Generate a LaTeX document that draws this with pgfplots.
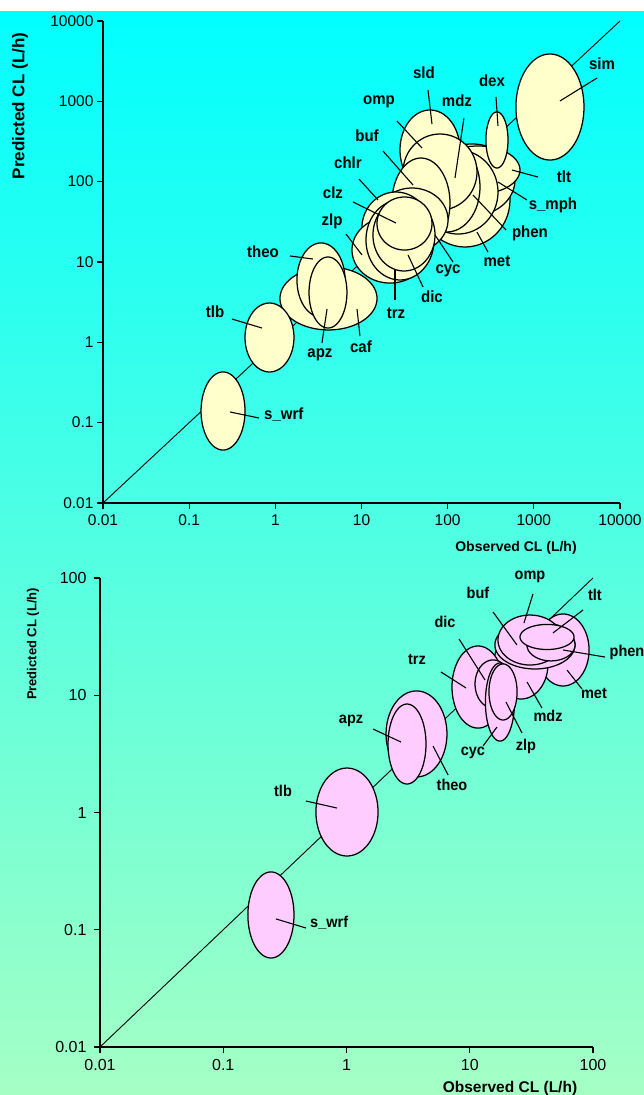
\documentclass[border=0pt]{standalone}
\usepackage{pgfplots}
\pgfplotsset{compat=1.18}
\usepackage{fontspec}
\setmainfont{Liberation Sans}
\definecolor{ellY}{RGB}{255,255,204}
\definecolor{ellP}{RGB}{255,204,255}
\definecolor{bgTop}{RGB}{0,255,255}
\definecolor{bgBot}{RGB}{165,255,196}
% ellipse: centre (log10 obs, log10 pred), half-widths in decades
\newcommand{\ellp}[5]{\addplot[fill=#5, draw=black, line width=1.25pt, domain=0:360, samples=91] ({#1+#3*cos(x)},{#2+#4*sin(x)}) -- cycle;}
\newcommand{\lead}[4]{\addplot[black, line width=1.1pt] coordinates {(#1,#2) (#3,#4)};}
\tikzset{lbl/.style={font=\fontsize{15}{15}\selectfont\bfseries, inner sep=0pt, yscale=1.08},
         lblb/.style={font=\fontsize{14.5}{15}\selectfont\bfseries, inner sep=0pt, yscale=1.08}}
\pgfplotsset{myax/.style={
  scale only axis, anchor=south west,
  axis lines=left, axis line style={-, line width=1.3pt},
  tick align=outside, major tick length=6pt,
  tick style={black, line width=1.2pt},
  xminorticks=false, yminorticks=false,
  clip=false,
}}
\begin{document}
\begin{tikzpicture}
\useasboundingbox (0,0) rectangle (644pt,1095pt);
\fill[white] (0,0) rectangle (644pt,1095pt);
\shade[top color=bgTop, bottom color=bgBot] (0,0) rectangle (644pt,1083pt);

% ---------------- top panel ----------------
\begin{axis}[myax, at={(103pt,592pt)}, width=517pt, height=482pt,
  xmin=-2, xmax=4, ymin=-2, ymax=4,
  xtick={-2,...,4}, ytick={-2,...,4},
  ticklabel style={font=\fontsize{15.5}{15.5}\selectfont},
  xticklabel style={yshift=-2pt},
  xticklabels={0.01,0.1,1,10,100,1000,10000},
  yticklabels={0.01,0.1,1,10,100,1000,10000}]
\addplot[black, line width=0.9pt] coordinates {(-2,-2) (4,4)};
\ellp{0.617}{0.546}{0.563}{0.392}{ellY} % caf
\ellp{0.530}{0.776}{0.279}{0.461}{ellY} % theo
\ellp{0.611}{0.620}{0.220}{0.442}{ellY} % apz
\ellp{-0.068}{0.060}{0.284}{0.429}{ellY} % tlb
\ellp{-0.607}{-0.855}{0.255}{0.486}{ellY} % s_wrf
\ellp{2.201}{1.772}{0.522}{0.585}{ellY} % met
\ellp{2.282}{2.021}{0.499}{0.448}{ellY} % s_mph
\ellp{2.352}{2.145}{0.487}{0.299}{ellY} % tlt
\ellp{2.120}{1.871}{0.464}{0.523}{ellY} % phen
\ellp{1.992}{1.934}{0.383}{0.560}{ellY} % mdz
\ellp{1.795}{2.394}{0.348}{0.498}{ellY} % sld
\ellp{1.911}{2.120}{0.429}{0.473}{ellY} % omp
\ellp{1.690}{1.734}{0.337}{0.560}{ellY} % buf
\ellp{1.586}{1.523}{0.418}{0.398}{ellY} % cyc
\ellp{1.400}{1.423}{0.395}{0.448}{ellY} % chlr
\ellp{1.331}{1.149}{0.441}{0.411}{ellY} % zlp
\ellp{1.447}{1.274}{0.395}{0.498}{ellY} % trz
\ellp{1.493}{1.336}{0.360}{0.448}{ellY} % dic
\ellp{1.499}{1.479}{0.319}{0.330}{ellY} % clz
\ellp{2.572}{2.519}{0.128}{0.349}{ellY} % dex
\ellp{3.187}{2.929}{0.395}{0.660}{ellY} % sim
% leaders
\lead{3.733}{3.290}{3.303}{3.004}
\lead{2.561}{3.054}{2.584}{2.693}
\lead{1.772}{3.141}{1.818}{2.718}
\lead{2.189}{2.792}{2.085}{2.046}
\lead{1.412}{2.755}{1.702}{2.419}
\lead{1.249}{2.382}{1.598}{1.958}
\lead{0.971}{2.033}{1.191}{1.772}
\lead{0.901}{1.747}{1.400}{1.485}
\lead{0.820}{1.348}{1.006}{1.087}
\lead{0.170}{1.075}{0.437}{1.037}
\lead{-0.503}{0.290}{-0.155}{0.178}
\lead{0.541}{-0.008}{0.600}{0.415}
\lead{0.982}{0.079}{0.948}{0.415}
\lead{1.389}{0.527}{1.389}{0.900}
\lead{1.714}{0.689}{1.540}{1.087}
\lead{2.062}{1.000}{1.853}{1.336}
\lead{2.468}{1.124}{2.340}{1.373}
\lead{2.677}{1.398}{2.294}{1.834}
\lead{2.920}{1.772}{2.584}{1.996}
\lead{3.048}{2.058}{2.746}{2.145}
\lead{-0.190}{-0.942}{-0.526}{-0.867}
% labels
\node[lbl] at (axis cs:3.791,3.465) {sim};
\node[lbl] at (axis cs:2.514,3.253) {dex};
\node[lbl] at (axis cs:1.725,3.353) {sld};
\node[lbl] at (axis cs:2.108,3.004) {mdz};
\node[lbl] at (axis cs:1.203,2.992) {omp};
\node[lbl] at (axis cs:1.064,2.568) {buf};
\node[lbl] at (axis cs:0.843,2.232) {chlr};
\node[lbl] at (axis cs:0.669,1.859) {clz};
\node[lbl] at (axis cs:0.658,1.510) {zlp};
\node[lbl] at (axis cs:-0.143,1.124) {theo};
\node[lbl] at (axis cs:-0.700,0.377) {tlb};
\node[lbl] at (axis cs:0.518,-0.158) {apz};
\node[lbl] at (axis cs:0.994,-0.058) {caf};
\node[lbl] at (axis cs:1.400,0.365) {trz};
\node[lbl] at (axis cs:1.818,0.564) {dic};
\node[lbl] at (axis cs:2.004,0.888) {cyc};
\node[lbl] at (axis cs:2.572,1.012) {met};
\node[lbl] at (axis cs:2.955,1.361) {phen};
\node[lbl] at (axis cs:3.222,1.709) {s\_mph};
\node[lbl] at (axis cs:3.350,2.058) {tlt};
\node[lbl, anchor=west] at (axis cs:-0.132,-0.905) {s\_wrf};
\end{axis}
\node[font=\fontsize{14}{14}\selectfont\bfseries] at (516pt,547pt) {Observed CL (L/h)};
\node[font=\fontsize{17}{17}\selectfont\bfseries, rotate=90] at (20pt,989pt) {Predicted CL (L/h)};

% ---------------- bottom panel ----------------
\begin{axis}[myax, at={(100pt,48pt)}, width=493pt, height=469pt,
  xmin=-2, xmax=2, ymin=-2, ymax=2,
  xtick={-2,...,2}, ytick={-2,...,2},
  ticklabel style={font=\fontsize{16}{16}\selectfont},
  xticklabels={0.01,0.1,1,10,100},
  yticklabels={0.01,0.1,1,10,100},
  yticklabel style={xshift=-4pt}, xticklabel style={yshift=-3pt}]
\addplot[black, line width=0.9pt] coordinates {(-2,-2) (2,2)};
\ellp{1.757}{1.386}{0.211}{0.307}{ellP} % met
\ellp{1.416}{1.267}{0.219}{0.299}{ellP} % mdz
\ellp{1.529}{1.429}{0.325}{0.205}{ellP} % buf
\ellp{1.489}{1.471}{0.260}{0.213}{ellP} % omp
\ellp{1.659}{1.429}{0.195}{0.136}{ellP} % phen
\ellp{1.627}{1.497}{0.219}{0.107}{ellP} % tlt
\ellp{1.067}{1.070}{0.211}{0.350}{ellP} % trz
\ellp{1.189}{1.096}{0.146}{0.205}{ellP} % dic
\ellp{1.245}{0.942}{0.118}{0.333}{ellP} % cyc
\ellp{1.270}{1.028}{0.114}{0.239}{ellP} % zlp
\ellp{0.568}{0.670}{0.247}{0.367}{ellP} % theo
\ellp{0.491}{0.584}{0.154}{0.341}{ellP} % apz
\ellp{0.004}{0.004}{0.252}{0.375}{ellP} % tlb
\ellp{-0.613}{-0.874}{0.187}{0.367}{ellP} % s_wrf
% leaders
\lead{1.513}{1.864}{1.440}{1.616}
\lead{1.919}{1.727}{1.675}{1.531}
\lead{1.189}{1.710}{1.383}{1.429}
\lead{0.913}{1.480}{1.124}{1.130}
\lead{2.097}{1.326}{1.757}{1.386}
\lead{0.767}{1.198}{0.970}{1.062}
\lead{1.911}{1.053}{1.789}{1.215}
\lead{1.586}{0.891}{1.465}{1.113}
\lead{0.215}{0.712}{0.442}{0.601}
\lead{1.424}{0.678}{1.294}{0.942}
\lead{1.108}{0.567}{1.221}{0.729}
\lead{0.824}{0.320}{0.702}{0.567}
\lead{-0.329}{0.098}{-0.077}{0.038}
\lead{-0.329}{-0.985}{-0.572}{-0.908}
% labels
\node[lblb] at (axis cs:1.489,2.009) {omp};
\node[lblb] at (axis cs:2.016,1.855) {tlt};
\node[lblb] at (axis cs:1.067,1.872) {buf};
\node[lblb] at (axis cs:0.799,1.625) {dic};
\node[lblb] at (axis cs:2.276,1.369) {phen};
\node[lblb] at (axis cs:0.572,1.301) {trz};
\node[lblb] at (axis cs:2.008,1.011) {met};
\node[lblb] at (axis cs:1.635,0.823) {mdz};
\node[lblb] at (axis cs:0.037,0.780) {apz};
\node[lblb] at (axis cs:1.456,0.567) {zlp};
\node[lblb] at (axis cs:1.026,0.507) {cyc};
\node[lblb] at (axis cs:0.856,0.235) {theo};
\node[lblb] at (axis cs:-0.515,0.183) {tlb};
\node[lblb, anchor=west] at (axis cs:-0.296,-0.942) {s\_wrf};
\end{axis}
\node[font=\fontsize{15.5}{15.5}\selectfont\bfseries] at (510pt,7pt) {Observed CL (L/h)};
\node[font=\fontsize{13}{13}\selectfont\bfseries, rotate=90] at (33pt,451pt) {Predicted CL (L/h)};
\end{tikzpicture}
\end{document}
